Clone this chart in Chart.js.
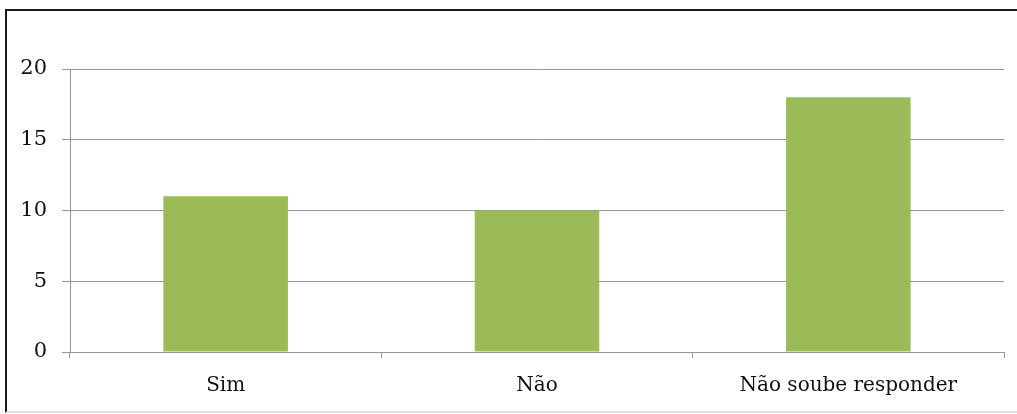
<!DOCTYPE html>
<html>
<head>
<meta charset="utf-8">
<script src="https://cdn.jsdelivr.net/npm/chart.js@4"></script>
<style>
  html, body { margin: 0; padding: 0; background: #fff; }
  #moldura {
    position: absolute; left: 5px; top: 9px; width: 1020px; height: 400px;
    border-left: 2px solid #1a1a1a; border-top: 2px solid #1a1a1a;
    border-bottom: 2px solid #e4e4e4;
  }
  #caixa { position: absolute; left: 0; top: 0; width: 1017px; height: 414px; }
</style>
</head>
<body>
<div id="moldura"></div>
<div id="caixa"><canvas id="grafico"></canvas></div>
<script>
/* Dados */
const categorias = ['Sim', 'Não', 'Não soube responder'];
const valores = [11, 10, 18];
const ticksY = [0, 5, 10, 15, 20];

const VERDE = '#9bbb59';
const CINZA = '#969696';
const FONTE = "'DejaVu Serif', 'Liberation Serif', serif";

Chart.defaults.animation = false;
Chart.defaults.font.family = FONTE;
Chart.defaults.color = '#111';

new Chart(document.getElementById('grafico'), {
  type: 'bar',
  data: {
    labels: categorias,
    datasets: [{
      data: valores,
      backgroundColor: VERDE,
      borderWidth: 0,
      barPercentage: 0.4,
      categoryPercentage: 1
    }]
  },
  options: {
    responsive: true,
    maintainAspectRatio: false,
    layout: { padding: { top: 69, right: 13, left: 0, bottom: 0 } },
    plugins: { legend: { display: false }, tooltip: { enabled: false } },
    scales: {
      x: {
        offset: true,
        grid: { offset: true, drawOnChartArea: false, drawTicks: true, tickLength: 6, color: CINZA },
        border: { color: CINZA, width: 1 },
        ticks: { font: { size: 20 }, padding: 16 },
        afterFit(s) { s.height = 62; }
      },
      y: {
        min: 0, max: 20,
        afterBuildTicks(s) { s.ticks = ticksY.map(v => ({ value: v })); },
        grid: { color: CINZA, tickLength: 8 },
        border: { color: CINZA, width: 1 },
        ticks: { font: { size: 21 }, padding: 15 },
        afterFit(s) { s.width = 70; }
      }
    }
  }
});
</script>
</body>
</html>
